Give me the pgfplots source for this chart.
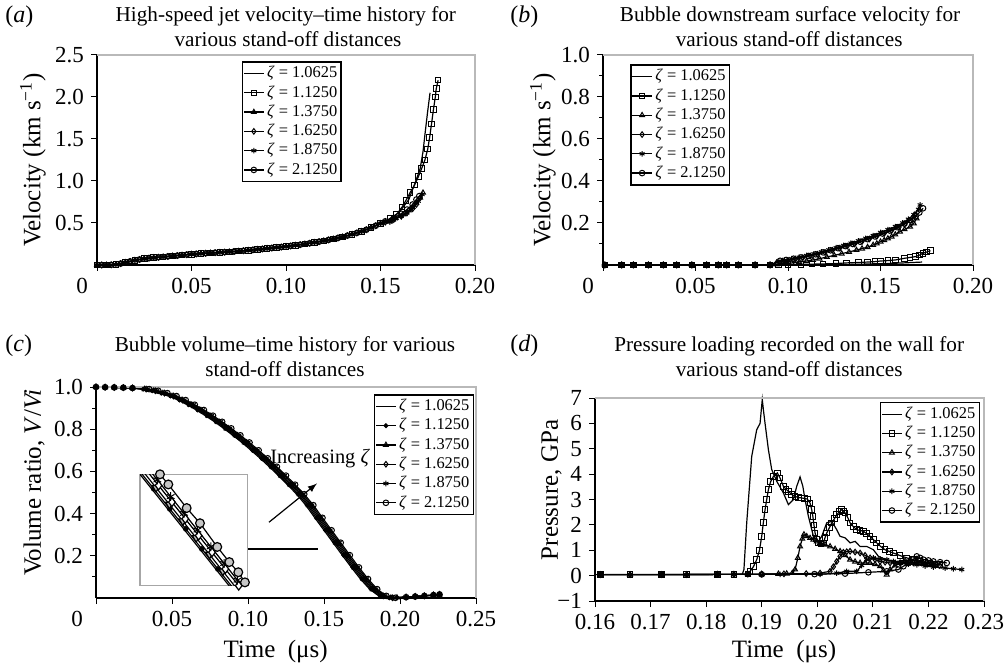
\documentclass[border=0pt]{standalone}
\usepackage{fontspec}
\setmainfont{Liberation Serif}
\usepackage{pgfplots}
\pgfplotsset{compat=1.18}

\newcommand{\zz}[1]{\textit{ζ} = #1}
\newcommand{\titlefont}{\fontsize{10.6}{12.5}\selectfont}
\newcommand{\labfont}{\fontsize{12.5}{13}\selectfont}

\tikzset{grayframe/.style={gray!55, line width=0.8pt}}
\pgfplotsset{
  panel/.style={
    scale only axis, clip=false,
    axis x line*=bottom, axis y line*=left,
    axis line style={black, line width=0.6pt},
    tick align=outside,
    major tick length=3pt, minor tick length=2pt,
    every tick/.style={black, line width=0.5pt},
    tick label style={font=\fontsize{11.5}{12}\selectfont},
    legend cell align=left,
    legend style={font=\fontsize{8.2}{9}\selectfont, draw=black, line width=0.8pt,
      inner xsep=0.5pt, inner ysep=1pt, row sep=0pt,
      nodes={inner xsep=1.5pt, inner ysep=1.2pt}},
    legend image code/.code={\draw[mark repeat=2,mark phase=2]
      plot coordinates {(0cm,0cm) (0.17cm,0cm) (0.34cm,0cm)};},
    every axis plot/.append style={black, line width=0.6pt, mark size=1.4pt,
      mark options={solid, fill=white, line width=0.5pt}},
  },
}

\begin{document}
\begin{tikzpicture}
\path[use as bounding box] (0,0) rectangle (502.5pt,334.5pt);

% ---------------- (a) jet velocity
\begin{axis}[panel, at={(48.5pt,202pt)}, anchor=south west,
  width=189pt, height=105pt,
  xmin=0, xmax=0.2, ymin=0, ymax=2.5,
  xtick={0,0.05,0.1,0.15,0.2},
  xticklabels={{\makebox[0pt][r]{0\hspace*{4.6pt}}},0.05,0.10,0.15,0.20},
  ytick={0.5,1,1.5,2,2.5}, yticklabels={0.5,1.0,1.5,2.0,2.5},
  legend style={at={(0.383,0.971)}, anchor=north west}]
\addplot[no marks] coordinates {(0,0)(0.005,0)(0.01,0.005)(0.015,0.03)(0.02,0.055)(0.025,0.075)(0.03,0.087)(0.035,0.097)(0.04,0.107)(0.045,0.118)(0.05,0.128)(0.055,0.136)(0.06,0.143)(0.065,0.15)(0.07,0.157)(0.075,0.165)(0.08,0.175)(0.085,0.186)(0.09,0.197)(0.095,0.208)(0.1,0.22)(0.105,0.235)(0.11,0.25)(0.115,0.268)(0.12,0.288)(0.125,0.31)(0.13,0.335)(0.135,0.365)(0.14,0.4)(0.145,0.445)(0.15,0.495)(0.155,0.55)(0.16,0.63)(0.162,0.69)(0.165,0.78)(0.167,0.9)(0.169,1.02)(0.171,1.15)(0.1725,1.35)(0.1735,1.55)(0.1748,1.8)(0.1762,2.05)};
\addplot[mark=square] coordinates {(0,0)(0.005,0)(0.01,0.005)(0.015,0.03)(0.02,0.055)(0.025,0.075)(0.03,0.087)(0.035,0.097)(0.04,0.107)(0.045,0.118)(0.05,0.128)(0.055,0.136)(0.06,0.143)(0.065,0.15)(0.07,0.157)(0.075,0.165)(0.08,0.175)(0.085,0.186)(0.09,0.197)(0.095,0.208)(0.1,0.22)(0.105,0.235)(0.11,0.25)(0.115,0.268)(0.12,0.288)(0.125,0.31)(0.13,0.335)(0.135,0.365)(0.14,0.4)(0.145,0.445)(0.15,0.495)(0.155,0.55)(0.1585,0.6)(0.1614,0.69)(0.1635,0.77)(0.1656,0.86)(0.168,0.95)(0.17,1.05)(0.1718,1.15)(0.1735,1.25)(0.175,1.38)(0.176,1.52)(0.177,1.68)(0.178,1.85)(0.179,2.0)(0.1795,2.1)(0.1805,2.2)};
\addplot[mark=triangle] coordinates {(0,0)(0.005,0)(0.01,0.005)(0.015,0.03)(0.02,0.055)(0.025,0.075)(0.03,0.087)(0.035,0.097)(0.04,0.107)(0.045,0.118)(0.05,0.128)(0.055,0.136)(0.06,0.143)(0.065,0.15)(0.07,0.157)(0.075,0.165)(0.08,0.175)(0.085,0.186)(0.09,0.197)(0.095,0.208)(0.1,0.22)(0.105,0.235)(0.11,0.25)(0.115,0.268)(0.12,0.288)(0.125,0.31)(0.13,0.335)(0.135,0.365)(0.14,0.4)(0.145,0.445)(0.15,0.495)(0.155,0.52)(0.158,0.56)(0.162,0.6)(0.165,0.65)(0.167,0.69)(0.169,0.74)(0.171,0.8)(0.1725,0.86)};
\addplot[mark=diamond] coordinates {(0.0025,0)(0.0075,0.002)(0.0125,0.017)(0.0175,0.043)(0.0225,0.066)(0.0275,0.082)(0.0325,0.092)(0.0375,0.102)(0.0425,0.112)(0.0475,0.123)(0.0525,0.132)(0.0575,0.14)(0.0625,0.147)(0.0675,0.153)(0.0725,0.161)(0.0775,0.17)(0.0825,0.18)(0.0875,0.191)(0.0925,0.202)(0.0975,0.214)(0.1025,0.227)(0.1075,0.242)(0.1125,0.259)(0.1175,0.278)(0.1225,0.299)(0.1275,0.322)(0.1325,0.35)(0.1375,0.382)(0.1425,0.42)(0.1475,0.468)(0.1525,0.51)(0.157,0.54)(0.161,0.58)(0.164,0.62)(0.167,0.67)(0.169,0.72)(0.171,0.8)};
\addplot[mark=asterisk] coordinates {(0,0)(0.005,0)(0.01,0.005)(0.015,0.03)(0.02,0.055)(0.025,0.075)(0.03,0.087)(0.035,0.097)(0.04,0.107)(0.045,0.118)(0.05,0.128)(0.055,0.136)(0.06,0.143)(0.065,0.15)(0.07,0.157)(0.075,0.165)(0.08,0.175)(0.085,0.186)(0.09,0.197)(0.095,0.208)(0.1,0.22)(0.105,0.235)(0.11,0.25)(0.115,0.268)(0.12,0.288)(0.125,0.31)(0.13,0.335)(0.135,0.365)(0.14,0.4)(0.145,0.445)(0.15,0.495)(0.155,0.51)(0.158,0.55)(0.161,0.58)(0.164,0.62)(0.167,0.68)(0.17,0.76)(0.172,0.84)};
\addplot[mark=o] coordinates {(0.0025,0)(0.0075,0.002)(0.0125,0.017)(0.0175,0.043)(0.0225,0.066)(0.0275,0.082)(0.0325,0.092)(0.0375,0.102)(0.0425,0.112)(0.0475,0.123)(0.0525,0.132)(0.0575,0.14)(0.0625,0.147)(0.0675,0.153)(0.0725,0.161)(0.0775,0.17)(0.0825,0.18)(0.0875,0.191)(0.0925,0.202)(0.0975,0.214)(0.1025,0.227)(0.1075,0.242)(0.1125,0.259)(0.1175,0.278)(0.1225,0.299)(0.1275,0.322)(0.1325,0.35)(0.1375,0.382)(0.1425,0.42)(0.1475,0.468)(0.1525,0.52)(0.157,0.56)(0.161,0.61)(0.164,0.66)(0.167,0.72)(0.169,0.78)(0.1705,0.82)};
\legend{\zz{1.0625},\zz{1.1250},\zz{1.3750},\zz{1.6250},\zz{1.8750},\zz{2.1250}}
\draw[grayframe] (rel axis cs:0,1) -- (rel axis cs:1,1) -- (rel axis cs:1,0);
\end{axis}

% ---------------- (b) downstream surface velocity
\begin{axis}[panel, at={(301.5pt,202pt)}, anchor=south west,
  width=185pt, height=105pt,
  xmin=0, xmax=0.2, ymin=0, ymax=1,
  xtick={0,0.05,0.1,0.15,0.2},
  xticklabels={{\makebox[0pt][r]{0\hspace*{4.6pt}}},0.05,0.10,0.15,0.20},
  ytick={0.2,0.4,0.6,0.8,1}, yticklabels={0.2,0.4,0.6,0.8,1.0},
  minor ytick={0.1,0.3,0.5,0.7,0.9},
  legend style={at={(0.073,0.956)}, anchor=north west}]
\addplot[no marks] coordinates {(0.001,0)(0.09,0)(0.12,0.001)(0.14,0.004)(0.16,0.009)(0.1725,0.014)};
\addplot[mark=square] coordinates {(0.001,0)(0.0101,0)(0.0164,0)(0.0245,0)(0.0326,0)(0.0398,0)(0.048,0)(0.056,0)(0.0623,0)(0.0668,0)(0.0731,0)(0.0822,0)(0.0903,0)(0.095,0.001)(0.1,0.002)(0.107,0.003)(0.113,0.004)(0.119,0.005)(0.126,0.007)(0.1317,0.01)(0.138,0.012)(0.143,0.014)(0.147,0.016)(0.15,0.019)(0.154,0.021)(0.158,0.024)(0.163,0.032)(0.166,0.036)(0.169,0.04)(0.171,0.047)(0.173,0.056)(0.175,0.062)(0.177,0.068)};
\addplot[mark=triangle] coordinates {(0.001,0)(0.0101,0)(0.0164,0)(0.0245,0)(0.0326,0)(0.0398,0)(0.048,0)(0.056,0)(0.0623,0)(0.0668,0)(0.0731,0)(0.0822,0)(0.0903,0)(0.094,0.003)(0.098,0.006)(0.102,0.01)(0.106,0.014)(0.11,0.019)(0.1135,0.024)(0.117,0.03)(0.121,0.038)(0.125,0.046)(0.129,0.054)(0.133,0.062)(0.137,0.071)(0.14,0.078)(0.143,0.085)(0.146,0.095)(0.148,0.102)(0.15,0.111)(0.152,0.118)(0.154,0.126)(0.156,0.135)(0.158,0.145)(0.1605,0.159)(0.163,0.17)(0.166,0.182)(0.168,0.198)(0.1695,0.222)};
\addplot[mark=diamond] coordinates {(0.001,0)(0.0101,0)(0.0164,0)(0.0245,0)(0.0326,0)(0.0398,0)(0.048,0)(0.056,0)(0.0623,0)(0.0668,0)(0.0731,0)(0.0822,0)(0.0903,0)(0.094,0.012)(0.097,0.018)(0.1,0.022)(0.104,0.028)(0.108,0.035)(0.112,0.043)(0.116,0.051)(0.12,0.06)(0.124,0.07)(0.128,0.08)(0.132,0.09)(0.136,0.1)(0.14,0.112)(0.144,0.124)(0.148,0.137)(0.152,0.15)(0.156,0.164)(0.16,0.18)(0.163,0.195)(0.166,0.212)(0.1686,0.24)};
\addplot[mark=asterisk] coordinates {(0.001,0)(0.0101,0)(0.0164,0)(0.0245,0)(0.0326,0)(0.0398,0)(0.048,0)(0.056,0)(0.0623,0)(0.0668,0)(0.0731,0)(0.0822,0)(0.0903,0)(0.095,0.018)(0.098,0.023)(0.102,0.03)(0.106,0.037)(0.11,0.045)(0.114,0.053)(0.118,0.062)(0.122,0.072)(0.126,0.082)(0.13,0.093)(0.134,0.104)(0.138,0.115)(0.142,0.127)(0.146,0.14)(0.15,0.155)(0.154,0.168)(0.158,0.183)(0.162,0.2)(0.165,0.218)(0.168,0.24)(0.1705,0.265)(0.1714,0.286)};
\addplot[mark=o] coordinates {(0.001,0)(0.0101,0)(0.0164,0)(0.0245,0)(0.0326,0)(0.0398,0)(0.048,0)(0.056,0)(0.0623,0)(0.0668,0)(0.0731,0)(0.0822,0)(0.0903,0)(0.0957,0.02)(0.099,0.024)(0.103,0.03)(0.107,0.036)(0.111,0.043)(0.115,0.051)(0.119,0.06)(0.123,0.07)(0.127,0.08)(0.131,0.09)(0.135,0.1)(0.139,0.111)(0.143,0.123)(0.147,0.136)(0.151,0.15)(0.155,0.164)(0.159,0.18)(0.163,0.197)(0.166,0.213)(0.169,0.232)(0.171,0.25)(0.173,0.27)};
\legend{\zz{1.0625},\zz{1.1250},\zz{1.3750},\zz{1.6250},\zz{1.8750},\zz{2.1250}}
\draw[grayframe] (rel axis cs:0,1) -- (rel axis cs:1,1) -- (rel axis cs:1,0);
\end{axis}

% ---------------- (c) bubble volume
\begin{axis}[panel, at={(48pt,35.5pt)}, anchor=south west,
  width=190pt, height=105.5pt,
  xmin=0, xmax=0.25, ymin=0, ymax=1,
  xtick={0,0.05,0.1,0.15,0.2,0.25},
  xticklabels={{\makebox[0pt][r]{0\hspace*{6.6pt}}},0.05,0.10,0.15,0.20,0.25},
  ytick={0.2,0.4,0.6,0.8,1}, yticklabels={0.2,0.4,0.6,0.8,1.0},
  minor ytick={0.1,0.3,0.5,0.7,0.9},
  legend style={at={(0.995,0.967)}, anchor=north east}]
\addplot[no marks] coordinates {(0,1.000)(0.006,0.999)(0.012,0.998)(0.018,0.997)(0.024,0.995)(0.030,0.990)(0.036,0.982)(0.042,0.971)(0.048,0.957)(0.054,0.938)(0.060,0.916)(0.066,0.891)(0.072,0.864)(0.078,0.835)(0.084,0.804)(0.090,0.771)(0.096,0.737)(0.102,0.700)(0.108,0.662)(0.114,0.622)(0.120,0.580)(0.126,0.537)(0.132,0.492)(0.138,0.440)(0.144,0.380)(0.150,0.321)(0.156,0.262)(0.162,0.203)(0.168,0.145)(0.174,0.090)(0.180,0.042)(0.186,0.010)(0.192,0.001)(0.198,0.002)(0.204,0.004)(0.210,0.007)(0.216,0.010)(0.222,0.014)(0.226,0.017)};
\addplot[mark=*, mark size=0.9pt, mark options={fill=black}] coordinates {(0,1.000)(0.006,0.999)(0.012,0.998)(0.018,0.997)(0.024,0.995)(0.031,0.990)(0.037,0.982)(0.043,0.971)(0.049,0.957)(0.055,0.938)(0.061,0.916)(0.067,0.891)(0.073,0.864)(0.079,0.835)(0.085,0.804)(0.091,0.771)(0.097,0.737)(0.103,0.700)(0.109,0.662)(0.115,0.622)(0.121,0.580)(0.127,0.537)(0.133,0.492)(0.139,0.440)(0.145,0.380)(0.151,0.321)(0.157,0.262)(0.163,0.203)(0.169,0.145)(0.175,0.090)(0.181,0.042)(0.187,0.010)(0.193,0.001)(0.198,0.002)(0.204,0.004)(0.210,0.007)(0.216,0.010)(0.222,0.014)(0.226,0.017)};
\addplot[mark=triangle] coordinates {(0,1.000)(0.006,0.999)(0.012,0.998)(0.018,0.997)(0.024,0.995)(0.032,0.990)(0.038,0.982)(0.044,0.971)(0.050,0.957)(0.056,0.938)(0.062,0.916)(0.068,0.891)(0.074,0.864)(0.080,0.835)(0.086,0.804)(0.092,0.771)(0.098,0.737)(0.104,0.700)(0.110,0.662)(0.116,0.622)(0.122,0.580)(0.128,0.537)(0.134,0.492)(0.140,0.440)(0.146,0.380)(0.152,0.321)(0.158,0.262)(0.164,0.203)(0.170,0.145)(0.176,0.090)(0.182,0.042)(0.188,0.010)(0.194,0.001)(0.198,0.002)(0.204,0.004)(0.210,0.007)(0.216,0.010)(0.222,0.014)(0.226,0.017)};
\addplot[mark=diamond] coordinates {(0,1.000)(0.006,0.999)(0.012,0.998)(0.018,0.997)(0.024,0.995)(0.033,0.990)(0.039,0.982)(0.045,0.971)(0.051,0.957)(0.057,0.938)(0.063,0.916)(0.069,0.891)(0.075,0.864)(0.081,0.835)(0.087,0.804)(0.093,0.771)(0.099,0.737)(0.105,0.700)(0.111,0.662)(0.117,0.622)(0.123,0.580)(0.129,0.537)(0.135,0.492)(0.141,0.440)(0.147,0.380)(0.153,0.321)(0.159,0.262)(0.165,0.203)(0.171,0.145)(0.177,0.090)(0.183,0.042)(0.189,0.010)(0.195,0.001)(0.204,0.004)(0.210,0.007)(0.216,0.010)(0.222,0.014)(0.226,0.017)};
\addplot[mark=asterisk] coordinates {(0,1.000)(0.006,0.999)(0.012,0.998)(0.018,0.997)(0.024,0.995)(0.034,0.990)(0.040,0.982)(0.046,0.971)(0.052,0.957)(0.058,0.938)(0.064,0.916)(0.070,0.891)(0.076,0.864)(0.082,0.835)(0.088,0.804)(0.094,0.771)(0.100,0.737)(0.106,0.700)(0.112,0.662)(0.118,0.622)(0.124,0.580)(0.130,0.537)(0.136,0.492)(0.142,0.440)(0.148,0.380)(0.154,0.321)(0.160,0.262)(0.166,0.203)(0.172,0.145)(0.178,0.090)(0.184,0.042)(0.190,0.010)(0.196,0.001)(0.204,0.004)(0.210,0.007)(0.216,0.010)(0.222,0.014)(0.226,0.017)};
\addplot[mark=o] coordinates {(0,1.000)(0.006,0.999)(0.012,0.998)(0.018,0.997)(0.024,0.995)(0.035,0.990)(0.041,0.982)(0.047,0.971)(0.053,0.957)(0.059,0.938)(0.065,0.916)(0.071,0.891)(0.077,0.864)(0.083,0.835)(0.089,0.804)(0.095,0.771)(0.101,0.737)(0.107,0.700)(0.113,0.662)(0.119,0.622)(0.125,0.580)(0.131,0.537)(0.137,0.492)(0.143,0.440)(0.149,0.380)(0.155,0.321)(0.161,0.262)(0.167,0.203)(0.173,0.145)(0.179,0.090)(0.185,0.042)(0.191,0.010)(0.197,0.001)(0.204,0.004)(0.210,0.007)(0.216,0.010)(0.222,0.014)(0.226,0.017)};
\legend{\zz{1.0625},\zz{1.1250},\zz{1.3750},\zz{1.6250},\zz{1.8750},\zz{2.1250}}
\draw[grayframe] (rel axis cs:0,1) -- (rel axis cs:1,1) -- (rel axis cs:1,0);
\draw[line width=0.6pt] (axis cs:0.0995,0.232) -- (axis cs:0.146,0.232);
\draw[line width=0.6pt, -latex] (axis cs:0.1138,0.359) -- (axis cs:0.1454,0.543);
\node[font=\fontsize{10.2}{11}\selectfont, anchor=west, inner sep=0pt] at (axis cs:0.1145,0.662) {Increasing \textit{ζ}};
\end{axis}

% inset of (c)
\begin{axis}[at={(70pt,41.65pt)}, anchor=south west, scale only axis,
  width=53.65pt, height=55.7pt, xmin=0, xmax=1, ymin=0, ymax=1,
  xtick=\empty, ytick=\empty, axis line style={gray!70, line width=0.7pt},
  every axis plot/.append style={black, line width=0.6pt, mark size=2.2pt,
    mark options={solid, line width=0.5pt}}]
\addplot[no marks] coordinates {(-0.0415,1.05)(0.8715,-0.05)};
\addplot[mark=*, mark size=1.1pt, mark options={fill=black}] coordinates {(-0.0215,1.05)(0.1279,0.87)(0.2773,0.69)(0.4267,0.51)(0.5761,0.33)(0.7255,0.15)(0.8749,-0.03)};
\addplot[mark=triangle*, mark options={fill=gray!55, rotate=180}] coordinates {(0.0251,1.03)(0.1496,0.88)(0.2741,0.73)(0.3986,0.58)(0.5231,0.43)(0.6476,0.28)(0.7721,0.13)(0.8966,-0.02)};
\addplot[mark=diamond*, mark options={fill=white}] coordinates {(0.0485,1.05)(0.173,0.9)(0.2975,0.75)(0.422,0.6)(0.5465,0.45)(0.671,0.3)(0.7955,0.15)(0.92,0.0)(1.003,-0.1)};
\addplot[mark=asterisk] coordinates {(0.037,1.1)(0.1615,0.95)(0.286,0.8)(0.4105,0.65)(0.535,0.5)(0.6595,0.35)(0.784,0.2)(0.9085,0.05)(1.033,-0.1)};
\addplot[mark=*, mark options={fill=gray!45}] coordinates {(0.186,1.0)(0.264,0.909)(0.435,0.697)(0.559,0.561)(0.72,0.348)(0.832,0.212)(0.916,0.121)(0.978,0.03)};
\end{axis}

% ---------------- (d) wall pressure
\begin{axis}[panel, at={(297.5pt,34pt)}, anchor=south west,
  width=194.5pt, height=101.5pt,
  xmin=0.16, xmax=0.23, ymin=-1, ymax=7,
  xtick={0.16,0.17,0.18,0.19,0.2,0.21,0.22,0.23},
  xticklabels={0.16,0.17,0.18,0.19,0.20,0.21,0.22,0.23},
  ytick={-1,0,1,2,3,4,5,6,7}, yticklabels={−1,0,1,2,3,4,5,6,7},
  legend style={at={(0.99,0.982)}, anchor=north east}]
\addplot[no marks] coordinates {(0.16,0.04)(0.1865,0.05)(0.1868,0.24)(0.1873,2.08)(0.1882,4.7)(0.1891,5.75)(0.1897,6.0)(0.1901,6.94)(0.1903,6.54)(0.1906,6.0)(0.1912,4.97)(0.1918,4.18)(0.1927,3.72)(0.1939,3.26)(0.1948,2.8)(0.1957,3.0)(0.1963,3.52)(0.1969,3.89)(0.1974,3.52)(0.1978,3.0)(0.1984,2.34)(0.1993,1.55)(0.2002,1.35)(0.2008,1.55)(0.2017,2.08)(0.2026,2.14)(0.2035,1.81)(0.2041,1.55)(0.2050,1.49)(0.2059,1.29)(0.2068,1.35)(0.2077,1.15)(0.2089,1.15)(0.2101,1.02)(0.2110,0.76)(0.2125,0.62)(0.214,0.55)(0.2155,0.6)(0.217,0.5)(0.219,0.42)(0.221,0.35)(0.2225,0.3)};
\addplot[mark=square] coordinates {(0.161,0.04)(0.1663,0.04)(0.172,0.04)(0.1765,0.04)(0.182,0.05)(0.185,0.05)(0.1875,0.06)(0.1879,0.17)(0.1885,0.35)(0.1891,0.63)(0.1896,1.0)(0.1900,1.55)(0.1903,2.1)(0.1906,2.6)(0.1909,3.0)(0.1912,3.39)(0.1916,3.7)(0.1921,3.91)(0.1928,4.05)(0.1933,3.85)(0.1939,3.52)(0.1944,3.4)(0.1948,3.32)(0.1954,3.2)(0.1960,3.12)(0.1966,3.08)(0.1972,3.06)(0.1977,3.04)(0.1982,3.02)(0.1987,2.86)(0.1990,2.6)(0.1992,2.34)(0.1994,2.0)(0.1996,1.68)(0.1999,1.45)(0.2002,1.29)(0.2007,1.25)(0.2011,1.29)(0.2014,1.5)(0.2017,1.68)(0.2022,1.9)(0.2026,2.08)(0.2031,2.25)(0.2035,2.4)(0.2040,2.52)(0.2044,2.6)(0.2047,2.55)(0.2050,2.47)(0.2055,2.28)(0.2059,2.08)(0.2065,1.93)(0.2071,1.81)(0.2077,1.78)(0.2083,1.75)(0.2089,1.65)(0.2095,1.55)(0.2101,1.42)(0.2107,1.29)(0.2114,1.15)(0.2122,1.02)(0.2130,0.95)(0.2137,0.89)(0.2149,0.79)(0.2161,0.70)(0.2173,0.63)(0.2185,0.56)(0.2194,0.52)(0.2203,0.5)(0.2212,0.46)(0.2221,0.43)};
\addplot[mark=triangle] coordinates {(0.161,0.04)(0.1663,0.04)(0.172,0.04)(0.1765,0.04)(0.182,0.05)(0.185,0.05)(0.1875,0.06)(0.19,0.06)(0.193,0.07)(0.1945,0.08)(0.1955,0.1)(0.1960,0.24)(0.1965,0.7)(0.1969,1.15)(0.1973,1.45)(0.1976,1.62)(0.1981,1.55)(0.1987,1.48)(0.1993,1.42)(0.1999,1.35)(0.2005,1.29)(0.2014,1.22)(0.2023,1.15)(0.2032,1.05)(0.2041,0.96)(0.2050,0.8)(0.2059,0.63)(0.2068,0.55)(0.2077,0.5)(0.2086,0.5)(0.2095,0.5)(0.2104,0.45)(0.2113,0.37)(0.2119,0.2)(0.2125,0.04)(0.2131,0.24)(0.2140,0.4)(0.2149,0.5)(0.2158,0.58)(0.2167,0.63)(0.2179,0.57)(0.2191,0.5)(0.2200,0.46)(0.2209,0.43)};
\addplot[mark=diamond] coordinates {(0.161,0.04)(0.1663,0.04)(0.172,0.04)(0.1765,0.04)(0.182,0.05)(0.185,0.05)(0.1875,0.06)(0.19,0.06)(0.194,0.07)(0.198,0.08)(0.2005,0.1)(0.2023,0.17)(0.2029,0.35)(0.2035,0.56)(0.2041,0.76)(0.2047,0.92)(0.2053,0.94)(0.2059,0.96)(0.2068,0.93)(0.2077,0.89)(0.2086,0.8)(0.2095,0.7)(0.2104,0.63)(0.2113,0.56)(0.2122,0.53)(0.2131,0.5)(0.2140,0.5)(0.2149,0.5)(0.2161,0.5)(0.2173,0.5)(0.2188,0.5)(0.2203,0.5)(0.2213,0.45)(0.222,0.4)};
\addplot[mark=asterisk] coordinates {(0.161,0.04)(0.1663,0.04)(0.172,0.04)(0.1765,0.04)(0.182,0.05)(0.185,0.05)(0.1875,0.05)(0.1933,0.05)(0.2005,0.05)(0.2035,0.1)(0.2053,0.17)(0.2071,0.17)(0.208,0.4)(0.2089,0.63)(0.2101,0.7)(0.2113,0.66)(0.2125,0.63)(0.2137,0.56)(0.2149,0.5)(0.2164,0.46)(0.2179,0.43)(0.2194,0.38)(0.2209,0.34)(0.223,0.3)(0.2245,0.27)(0.2260,0.24)};
\addplot[mark=o] coordinates {(0.161,0.04)(0.172,0.04)(0.182,0.05)(0.19,0.05)(0.1995,0.06)(0.205,0.08)(0.2092,0.13)(0.2125,0.17)(0.2146,0.24)(0.2155,0.37)(0.2164,0.5)(0.2172,0.63)(0.2179,0.76)(0.2185,0.7)(0.2191,0.63)(0.2200,0.6)(0.2209,0.56)(0.2221,0.53)(0.2233,0.5)};
\legend{\zz{1.0625},\zz{1.1250},\zz{1.3750},\zz{1.6250},\zz{1.8750},\zz{2.1250}}
\draw[grayframe] (rel axis cs:0,1) -- (rel axis cs:1,1) -- (rel axis cs:1,0);
\end{axis}

% ---------------- titles, panel letters, axis labels
\node[anchor=base, font=\titlefont] at (142.9pt,323.5pt) {High-speed jet velocity--time history for};
\node[anchor=base, font=\titlefont] at (144pt,311.2pt) {various stand-off distances};
\node[anchor=base, font=\titlefont] at (395pt,323.5pt) {Bubble downstream surface velocity for};
\node[anchor=base, font=\titlefont] at (394.6pt,311.2pt) {various stand-off distances};
\node[anchor=base, font=\titlefont] at (142.5pt,158.7pt) {Bubble volume--time history for various};
\node[anchor=base, font=\titlefont] at (142.5pt,146.2pt) {stand-off distances};
\node[anchor=base, font=\titlefont] at (394.6pt,158.7pt) {Pressure loading recorded on the wall for};
\node[anchor=base, font=\titlefont] at (394.6pt,146.2pt) {various stand-off distances};

\node[anchor=base west, inner sep=0pt, font=\fontsize{12}{12}\selectfont] at (2.5pt,323pt) {(\textit{a})};
\node[anchor=base west, inner sep=0pt, font=\fontsize{12}{12}\selectfont] at (255pt,323pt) {(\textit{b})};
\node[anchor=base west, inner sep=0pt, font=\fontsize{12}{12}\selectfont] at (2.5pt,158.7pt) {(\textit{c})};
\node[anchor=base west, inner sep=0pt, font=\fontsize{12}{12}\selectfont] at (255pt,158.7pt) {(\textit{d})};

\node[rotate=90, font=\labfont] at (16.5pt,254.5pt) {Velocity (km s\textsuperscript{−1})};
\node[rotate=90, font=\labfont] at (271.5pt,254.5pt) {Velocity (km s\textsuperscript{−1})};
\node[rotate=90, font=\labfont] at (17pt,93.25pt) {Volume ratio, \textit{V}/\textit{Vi}};
\node[rotate=90, font=\labfont] at (275.8pt,89.5pt) {Pressure, GPa};
\node[font=\labfont] at (137.8pt,8.7pt) {Time\ \ (μs)};
\node[font=\labfont] at (392pt,8.7pt) {Time\ \ (μs)};
\end{tikzpicture}
\end{document}
